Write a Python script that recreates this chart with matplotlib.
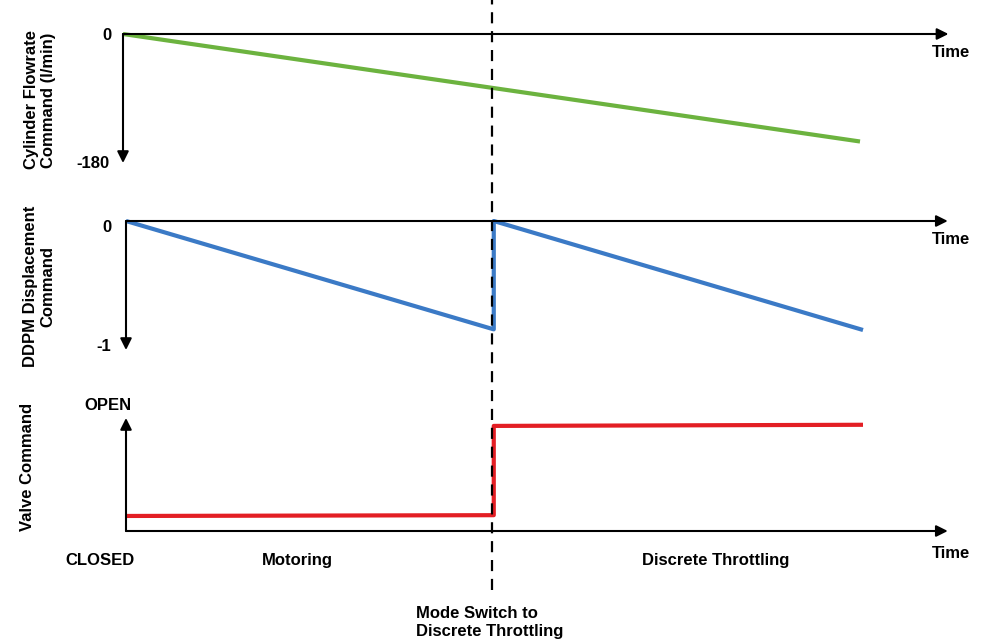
import matplotlib.pyplot as plt

plt.rcParams['font.family'] = ['Liberation Sans', 'DejaVu Sans']
plt.rcParams['font.weight'] = 'bold'

# data (time in arbitrary units, mode switch at t=5)
t_switch = 5.0
flow_t = [0, 10]
flow_v = [0, -150]
ddpm_t = [0, 4.99, 4.99, 10]
ddpm_v = [0, -0.84, 0, -0.845]
valve_t = [0, 4.99, 4.99, 10]
valve_v = [0.133, 0.14, 0.93, 0.94]

green = '#6cb33f'
blue = '#3b7ac6'
red = '#e31e24'

W, H = 989, 643
fig = plt.figure(figsize=(W / 100, H / 100), dpi=100)

XMAX = 11.5
PX = 73.7  # pixels per time unit


def box(left, top, bottom):
    return [left / W, 1 - bottom / H, XMAX * PX / W, (bottom - top) / H]


def arrow(ax, x0, y0, x1, y1):
    ax.annotate('', xy=(x1, y1), xytext=(x0, y0),
                arrowprops=dict(arrowstyle='-|>', color='black', lw=1.5,
                                mutation_scale=17, shrinkA=0, shrinkB=0),
                annotation_clip=False)


txt = dict(fontsize=12, fontweight='bold', color='black')
LW = 3.0

# panel 1: cylinder flowrate
ax1 = fig.add_axes(box(123, 34, 163))
ax1.set_xlim(0, XMAX)
ax1.set_ylim(-180, 0)
ax1.axis('off')
arrow(ax1, 0, 0, 11.2, 0)
arrow(ax1, 0, 0, 0, -180)
ax1.plot(flow_t, flow_v, color=green, lw=LW, clip_on=False, solid_capstyle='butt')
ax1.text(-0.16, -2, '0', ha='right', va='center', **txt)
ax1.text(-0.18, -180, '-180', ha='right', va='center', **txt)
ax1.text(11.23, -26.5, 'Time', ha='center', va='center', **txt)
ax1.text(-1.13, -92, 'Cylinder Flowrate\nCommand (l/min)', rotation=90,
         ha='center', va='center', multialignment='center', linespacing=1.15, **txt)

# panel 2: DDPM displacement
ax2 = fig.add_axes(box(126, 221, 350))
ax2.set_xlim(0, XMAX)
ax2.set_ylim(-1, 0)
ax2.axis('off')
arrow(ax2, 0, 0, 11.15, 0)
arrow(ax2, 0, 0, 0, -1)
ax2.plot(ddpm_t, ddpm_v, color=blue, lw=LW, clip_on=False, solid_capstyle='butt')
ax2.text(-0.2, -0.054, '0', ha='right', va='center', **txt)
ax2.text(-0.2, -0.97, '-1', ha='right', va='center', **txt)
ax2.text(11.19, -0.147, 'Time', ha='center', va='center', **txt)
ax2.text(-1.18, -0.51, 'DDPM Displacement\nCommand', rotation=90,
         ha='center', va='center', multialignment='center', linespacing=1.15, **txt)

# panel 3: valve command
ax3 = fig.add_axes(box(126, 418, 531))
ax3.set_xlim(0, XMAX)
ax3.set_ylim(0, 1)
ax3.axis('off')
arrow(ax3, 0, 0, 11.15, 0)
arrow(ax3, 0, 0, 0, 1)
ax3.plot(valve_t, valve_v, color=red, lw=LW, clip_on=False, solid_capstyle='butt')
ax3.text(-0.24, 1.115, 'OPEN', ha='center', va='center', **txt)
ax3.text(-0.35, -0.265, 'CLOSED', ha='center', va='center', **txt)
ax3.text(11.19, -0.2, 'Time', ha='center', va='center', **txt)
ax3.text(2.32, -0.265, 'Motoring', ha='center', va='center', **txt)
ax3.text(8.0, -0.265, 'Discrete Throttling', ha='center', va='center', **txt)
ax3.text(4.93, -0.81, 'Mode Switch to\nDiscrete Throttling', ha='center', va='center',
         multialignment='left', linespacing=1.2, **txt)
ax3.text(-1.33, 0.57, 'Valve Command', rotation=90, ha='center', va='center', **txt)

# dashed mode switch line across all panels
ax4 = fig.add_axes([123 / W, 0, XMAX * PX / W, 1])
ax4.set_xlim(0, XMAX)
ax4.set_ylim(0, 1)
ax4.axis('off')
ax4.axvline(t_switch, ymin=(H - 590) / H, ymax=1, color='black', lw=1.6,
            linestyle=(0, (5, 3.5)))

fig.savefig('out.png', dpi=100)
